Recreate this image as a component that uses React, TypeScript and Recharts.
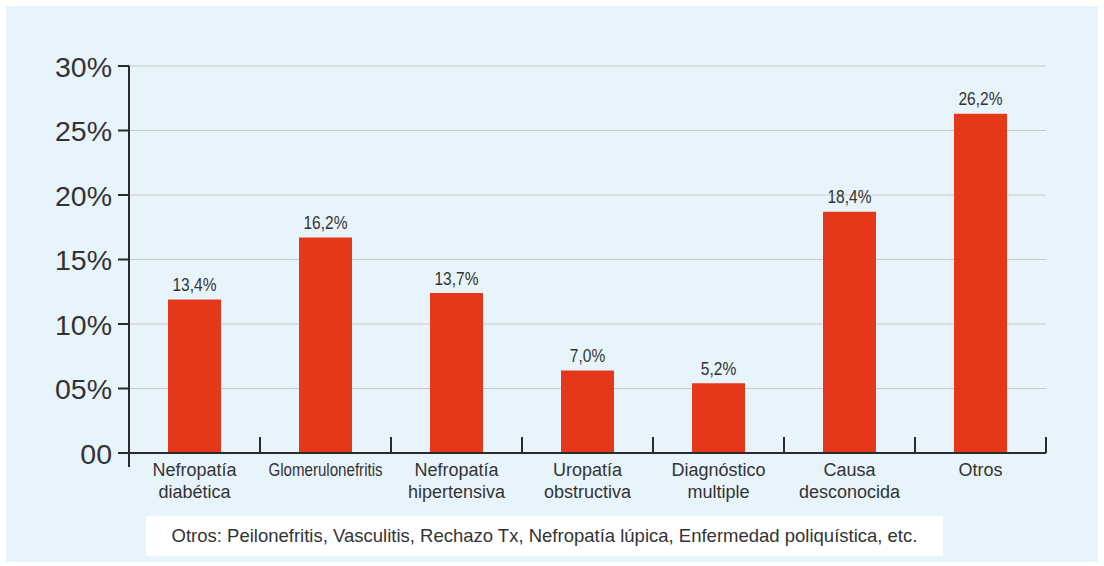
import React from "react";
import {
  BarChart,
  Bar,
  XAxis,
  YAxis,
  CartesianGrid,
  LabelList,
} from "recharts";

const categories = [
  "Nefropatía\ndiabética",
  "Glomerulonefritis",
  "Nefropatía\nhipertensiva",
  "Uropatía\nobstructiva",
  "Diagnóstico\nmultiple",
  "Causa\ndesconocida",
  "Otros",
];
const barValues = [11.9, 16.7, 12.4, 6.4, 5.4, 18.7, 26.3];
const barLabels = ["13,4%", "16,2%", "13,7%", "7,0%", "5,2%", "18,4%", "26,2%"];
const yTicks = [0, 5, 10, 15, 20, 25, 30];
const footnote =
  "Otros: Peilonefritis, Vasculitis, Rechazo Tx, Nefropatía lúpica, Enfermedad poliquística, etc.";

const data = categories.map((name, i) => ({
  name,
  value: barValues[i],
  label: barLabels[i],
}));

const W = 1104;
const H = 566;
const LEFT = 129;
const RIGHT = 58;
const TOP = 66;
const XAXIS_H = 113;
const HALF = (W - LEFT - RIGHT) / categories.length / 2;
const INK = "#2b2b2b";
const SANS = "'Liberation Sans', Arial, sans-serif";

const yFmt = (v: number) => (v === 0 ? "00" : v < 10 ? `0${v}%` : `${v}%`);

function XTick(props: any) {
  const { x, y, payload, index } = props;
  const lines = String(payload.value).split("\n");
  const narrow = lines.length === 1 && lines[0].length > 10;
  return (
    <g>
      <line x1={x + HALF} y1={y - 16} x2={x + HALF} y2={y} stroke={INK} strokeWidth={2} />
      {index === 0 && (
        <g>
          <line x1={x - HALF} y1={y} x2={x - HALF} y2={y + 14} stroke={INK} strokeWidth={2} />
          <line x1={x - HALF - 11} y1={y} x2={x - HALF} y2={y} stroke={INK} strokeWidth={2} />
        </g>
      )}
      {lines.map((l, i) => (
        <text
          key={i}
          transform={`translate(${x},${y + 23 + i * 22}) scale(${narrow ? 0.84 : 1},1)`}
          textAnchor="middle"
          fill="#333"
          fontFamily={SANS}
          fontSize={18}
        >
          {l}
        </text>
      ))}
    </g>
  );
}

function YTick(props: any) {
  const { x, y, payload } = props;
  return (
    <text
      x={x}
      y={y + 10.5}
      textAnchor="end"
      fill="#333"
      fontFamily={SANS}
      fontSize={28.5}
    >
      {yFmt(payload.value)}
    </text>
  );
}

function BarLabel(props: any) {
  const { x, y, width, value } = props;
  return (
    <text
      transform={`translate(${x + width / 2},${y - 8.5}) scale(0.84,1)`}
      textAnchor="middle"
      fill="#333"
      fontFamily={SANS}
      fontSize={18.5}
    >
      {value}
    </text>
  );
}

export default function App() {
  return (
    <div style={{ position: "absolute", left: 0, top: 0, width: W, height: H, background: "#fff" }}>
      <div
        style={{
          position: "absolute",
          left: 6,
          top: 6,
          width: 1092,
          height: 556,
          background: "#e8f4fc",
        }}
      />
      <div style={{ position: "absolute", left: 0, top: 0 }}>
        <BarChart
          width={W}
          height={H}
          data={data}
          margin={{ top: TOP, right: RIGHT, left: 0, bottom: 0 }}
          barCategoryGap={0}
        >
          <CartesianGrid vertical={false} stroke="#c8c8c8" strokeWidth={1} />
          <XAxis
            dataKey="name"
            height={XAXIS_H}
            interval={0}
            tickLine={false}
            tickSize={0}
            tickMargin={0}
            axisLine={{ stroke: INK, strokeWidth: 2 }}
            tick={<XTick />}
          />
          <YAxis
            width={LEFT}
            domain={[0, 30]}
            ticks={yTicks}
            interval={0}
            tickSize={11}
            tickMargin={6}
            tickLine={{ stroke: INK, strokeWidth: 2 }}
            axisLine={{ stroke: INK, strokeWidth: 2 }}
            tick={<YTick />}
          />
          <Bar dataKey="value" fill="#e5381a" barSize={53} isAnimationActive={false}>
            <LabelList dataKey="label" content={<BarLabel />} />
          </Bar>
        </BarChart>
      </div>
      <div
        style={{
          position: "absolute",
          left: 146,
          top: 516,
          width: 797,
          height: 40,
          background: "#fff",
          color: "#333",
          fontFamily: SANS,
          fontSize: 18.5,
          lineHeight: "40px",
          textAlign: "center",
          whiteSpace: "nowrap",
        }}
      >
        {footnote}
      </div>
    </div>
  );
}
